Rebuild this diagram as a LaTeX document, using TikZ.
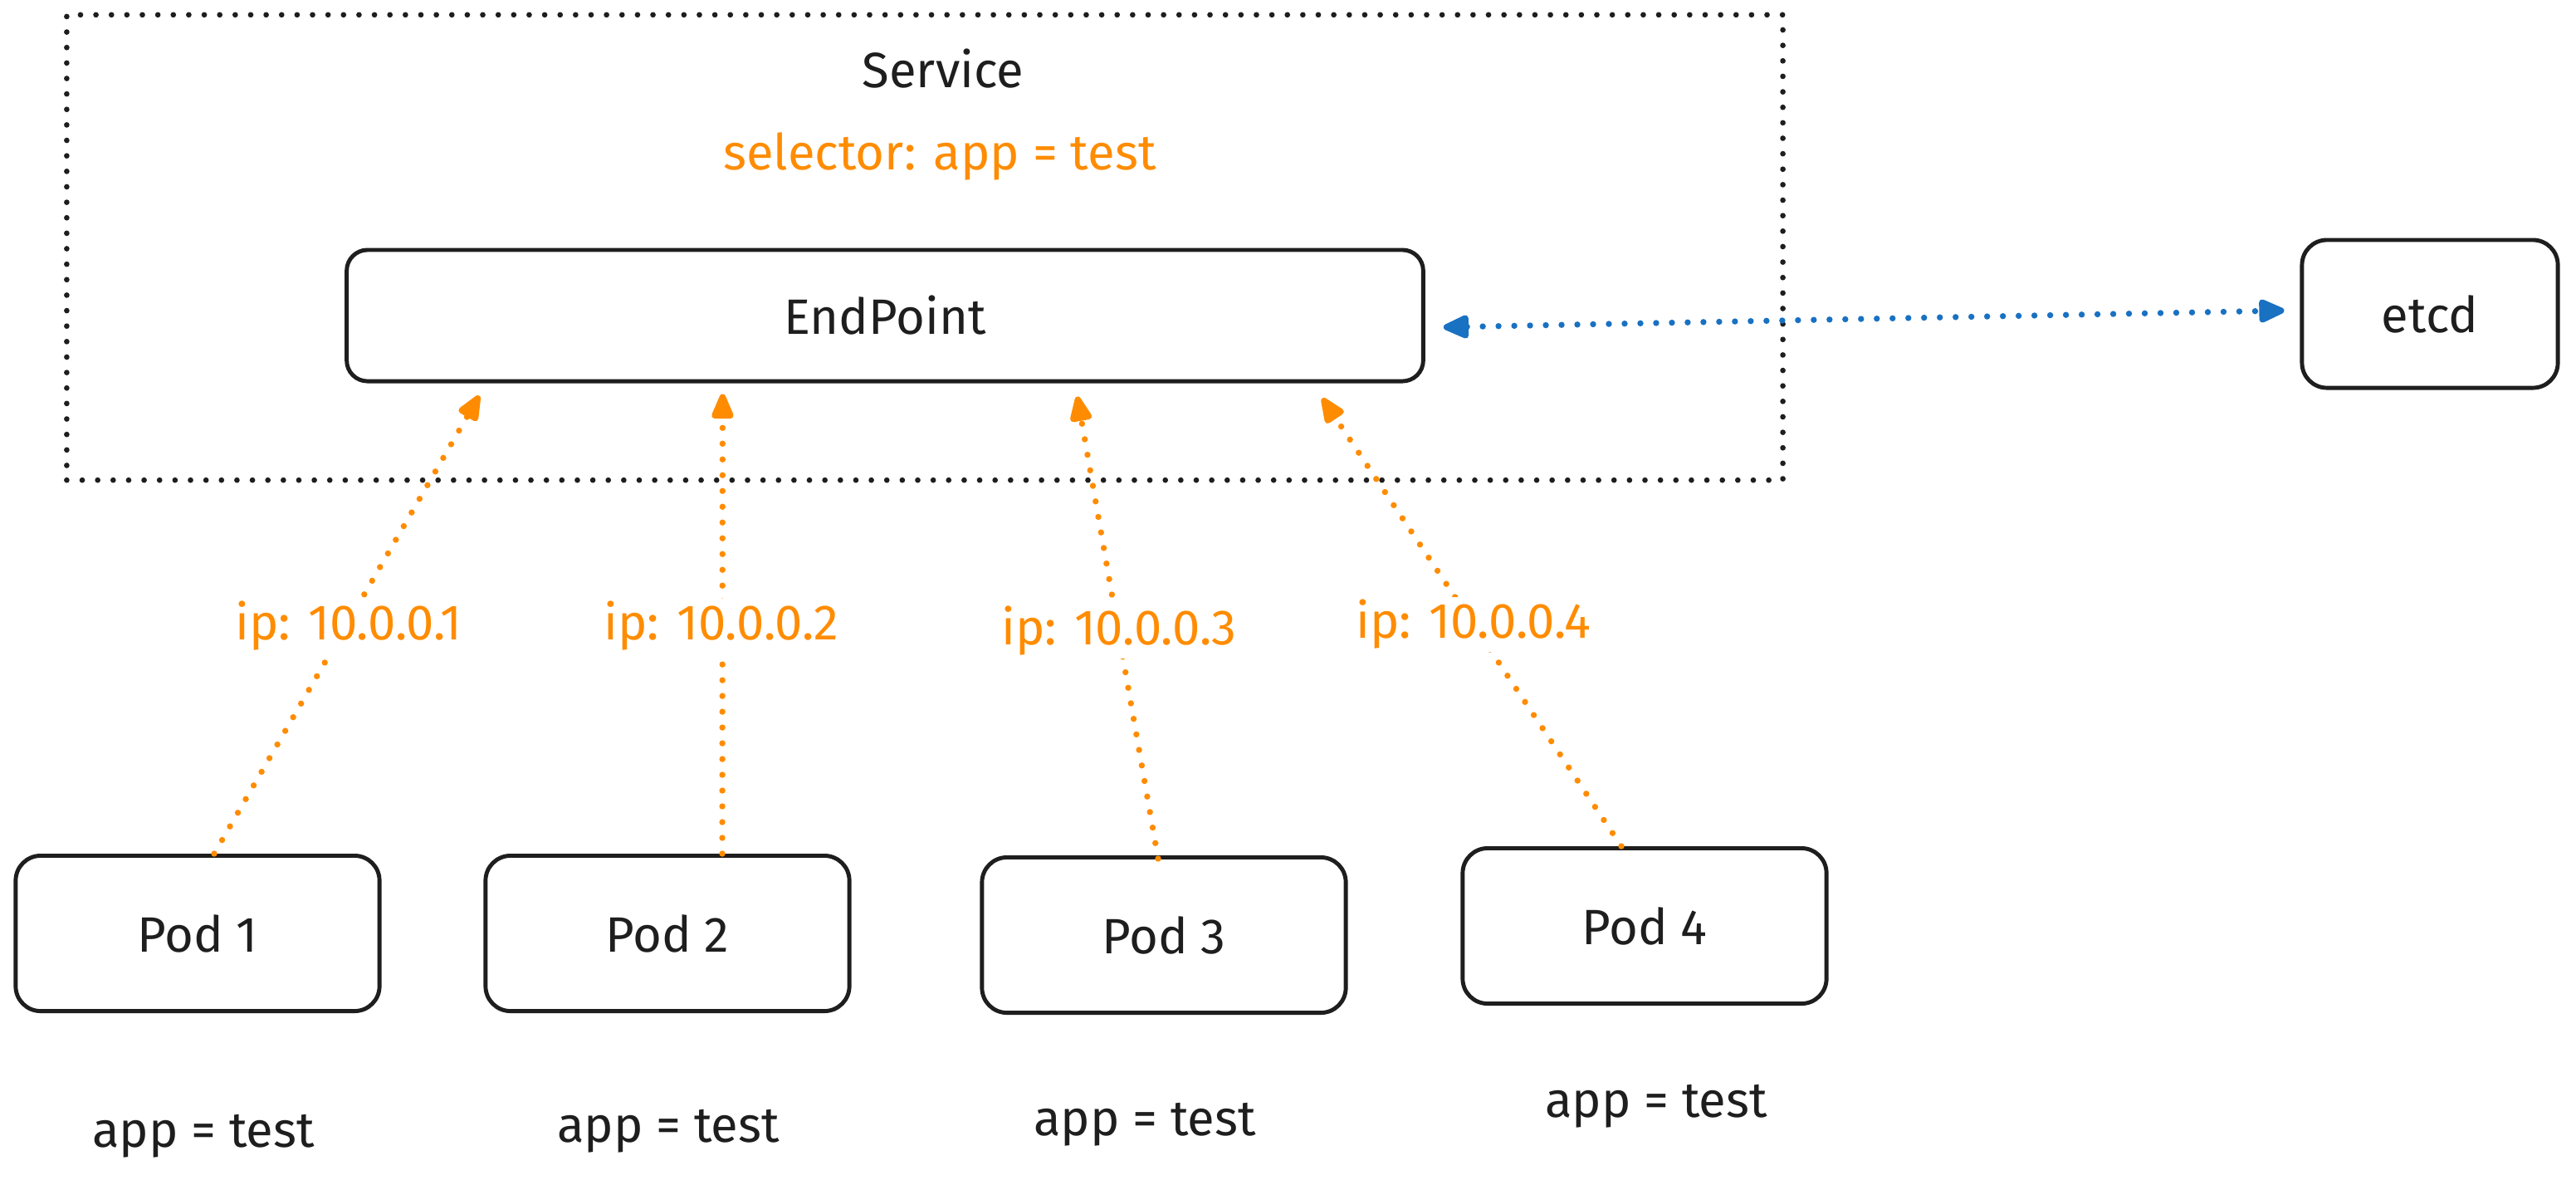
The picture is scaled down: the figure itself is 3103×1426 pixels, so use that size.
\documentclass[tikz,border=0pt]{standalone}
\usepackage{fontspec}
\setmainfont{Fira Sans}
\usetikzlibrary{arrows.meta}
\definecolor{ink}{HTML}{1E1E1E}
\definecolor{orng}{HTML}{FF8C00}
\definecolor{blu}{HTML}{1971C2}
\tikzset{
  box/.style={draw=ink, line width=1.4pt, rounded corners=0.3cm, fill=white, text=ink},
  txt/.style={text=ink, font=\fontsize{17}{20}\selectfont},
  otxt/.style={text=orng, font=\fontsize{17}{20}\selectfont},
  svcbox/.style={draw=ink, line width=1.9pt, line cap=round, dash pattern=on 0pt off 5.3pt},
  oarrow/.style={draw=orng, line width=2.1pt, line cap=round, dash pattern=on 0pt off 5.4pt,
     -{Triangle[length=0.36cm,width=0.28cm,round]}, shorten >=0pt},
  barrow/.style={draw=blu, line width=2.1pt, line cap=round, dash pattern=on 0pt off 5.4pt,
     {Triangle[length=0.36cm,width=0.3cm,round]}-{Triangle[length=0.36cm,width=0.3cm,round]}},
}
\begin{document}
\begin{tikzpicture}[x=0.01cm,y=-0.01cm]
\useasboundingbox[fill=white] (0,0) rectangle (3103,1426);
% service frame
\node[svcbox, minimum width=20.66cm, minimum height=5.6cm, inner sep=0pt] (svc) at (1114,298) {};
\node[txt] (svct) at (1136,83) {Service};
\node[otxt] (sel) at (1132,188) {selector: app = test};
% endpoint
\node[box, rounded corners=0.25cm, minimum width=12.96cm, minimum height=1.58cm, txt] (ep) at (1066,380) {EndPoint};
% etcd
\node[box, minimum width=3.08cm, minimum height=1.78cm, txt] (etcd) at (2927,378) {etcd};
% pods
\node[box, minimum width=4.38cm, minimum height=1.87cm, txt] (p1) at (238,1124) {Pod 1};
\node[box, minimum width=4.38cm, minimum height=1.87cm, txt] (p2) at (804,1124) {Pod 2};
\node[box, minimum width=4.38cm, minimum height=1.87cm, txt] (p3) at (1402,1126) {Pod 3};
\node[box, minimum width=4.38cm, minimum height=1.87cm, txt] (p4) at (1981,1115) {Pod 4};
% labels
\node[txt] (l1) at (245,1368) {app = test};
\node[txt] (l2) at (805,1362) {app = test};
\node[txt] (l3) at (1379,1354) {app = test};
\node[txt] (l4) at (1995,1332) {app = test};
% arrows
\draw[oarrow] ([xshift=0.2cm]p1.north) -- ([xshift=1.62cm,yshift=-0.15cm]ep.south west);
\draw[oarrow] ([xshift=0.66cm]p2.north) -- ([xshift=4.55cm,yshift=-0.13cm]ep.south west);
\draw[oarrow] ([xshift=-0.07cm,yshift=-0.04cm]p3.north) -- ([xshift=8.82cm,yshift=-0.16cm]ep.south west);
\draw[oarrow] ([xshift=-0.28cm]p4.north) -- ([xshift=11.77cm,yshift=-0.18cm]ep.south west);
\draw[barrow] ([xshift=0.22cm,yshift=-0.14cm]ep.east) -- ([xshift=-0.19cm,yshift=0.04cm]etcd.west);
% ip labels
\node[otxt, fill=white, inner sep=1pt] (ip1) at (420,754) {ip: 10.0.0.1};
\node[otxt, fill=white, inner sep=1pt] (ip2) at (869,754) {ip: 10.0.0.2};
\node[otxt, fill=white, inner sep=1pt] (ip3) at (1348,760) {ip: 10.0.0.3};
\node[otxt, fill=white, inner sep=1pt] (ip4) at (1775,752) {ip: 10.0.0.4};
\end{tikzpicture}
\end{document}
